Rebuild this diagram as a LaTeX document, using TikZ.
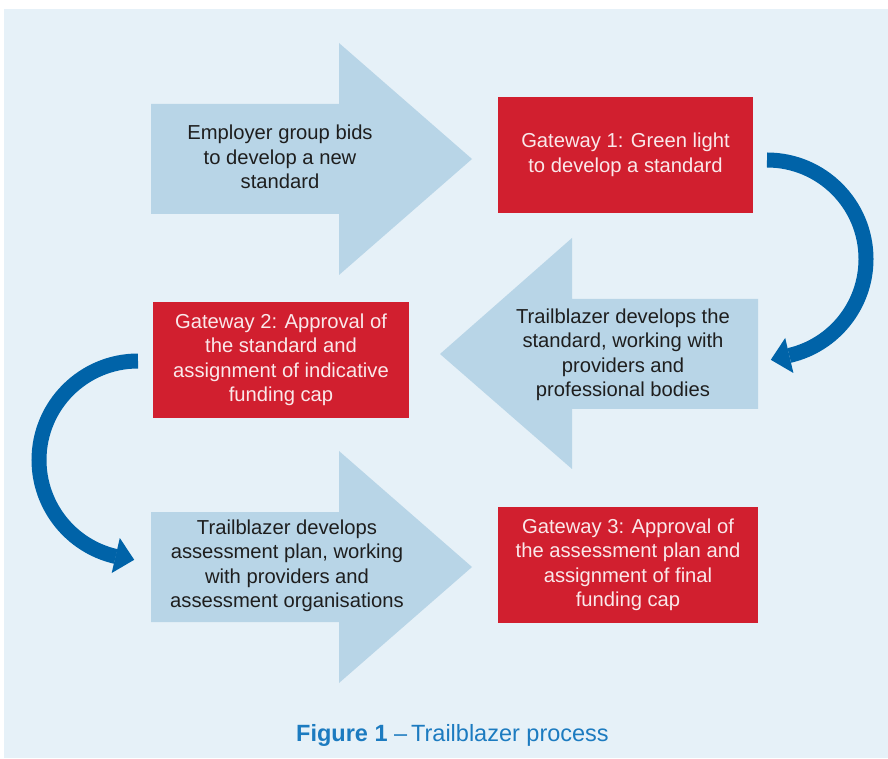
\documentclass[tikz,border=0pt]{standalone}
\usepackage{fontspec}
\setmainfont{Liberation Sans}
\usetikzlibrary{calc}
\definecolor{bgblue}{HTML}{E6F1F8}
\definecolor{arrowblue}{HTML}{B8D5E7}
\definecolor{gatered}{HTML}{D11F2F}
\definecolor{curveblue}{HTML}{0063A8}
\definecolor{capblue}{HTML}{1C7BC0}
\definecolor{darktext}{HTML}{1E1E1E}
\definecolor{pinkwhite}{HTML}{FAE8EA}
\tikzset{
  blockarrow/.style={fill=arrowblue, draw=none},
  arrowtext/.style={text=darktext, align=center, inner sep=0pt,
    font=\fontsize{20.2pt}{24.5pt}\selectfont},
  gatebox/.style={fill=gatered, draw=none, text=pinkwhite, align=center,
    inner sep=0pt, font=\fontsize{20.2pt}{24.5pt}\selectfont},
  curvearrow/.style={draw=curveblue, line width=15pt, line cap=butt},
  curvehead/.style={fill=curveblue, draw=none},
}
\begin{document}
\begin{tikzpicture}[x=1pt,y=1pt]
\useasboundingbox (0,0) rectangle (888,758);
\fill[white] (0,0) rectangle (888,758);
\fill[bgblue] (4,0) rectangle (888,749);

% block arrows
\fill[blockarrow] (151,654) -- (339,654) -- (339,715) -- (472,599) -- (339,483) -- (339,544) -- (151,544) -- cycle;
\fill[blockarrow] (758,459) -- (572,459) -- (572,520) -- (440,404) -- (572,289) -- (572,349) -- (758,349) -- cycle;
\fill[blockarrow] (151,246) -- (339,246) -- (339,307) -- (472,191) -- (339,75) -- (339,136) -- (151,136) -- cycle;

\node[arrowtext] (t1) at (280,601) {Employer group bids\\to develop a new\\standard};
\node[arrowtext] (t2) at (623,403) {Trailblazer develops the\\standard, working with\\providers and\\professional bodies};
\node[arrowtext] (t3) at (287,192) {Trailblazer develops\\assessment plan, working\\with providers and\\assessment organisations};

% gateways
\node[gatebox, minimum width=255pt, minimum height=116pt] (g1) at (625.5,603) {Gateway 1: Green light\\to develop a standard};
\node[gatebox, minimum width=256pt, minimum height=116pt] (g2) at (281,398) {Gateway 2: Approval of\\the standard and\\assignment of indicative\\funding cap};
\node[gatebox, minimum width=260pt, minimum height=116pt] (g3) at (628,193) {Gateway 3: Approval of\\the assessment plan and\\assignment of final\\funding cap};

% curved arrow 1
\coordinate (c1s) at (767,598);
\coordinate (c1tip) at (770.8,398.2);
\coordinate (c1a) at (793.4,385.0);
\coordinate (c1b) at (785.2,420.0);
\draw[curvearrow] (c1s) arc[start angle=90, end angle=-77, radius=99pt];
\fill[curvehead] (c1tip) -- (c1a) -- (c1b) -- cycle;

% curved arrow 2
\coordinate (c2s) at (138,397);
\coordinate (c2tip) at (134.2,198.2);
\coordinate (c2a) at (111.7,185.0);
\coordinate (c2b) at (119.8,220.0);
\draw[curvearrow] (c2s) arc[start angle=90, end angle=257, radius=99pt];
\fill[curvehead] (c2tip) -- (c2a) -- (c2b) -- cycle;

% caption
\node[text=capblue, inner sep=0pt, font=\fontsize{23.5pt}{28pt}\selectfont] (cap) at (452.5,23) {\textbf{Figure 1} –\,Trailblazer process};
\end{tikzpicture}
\end{document}
